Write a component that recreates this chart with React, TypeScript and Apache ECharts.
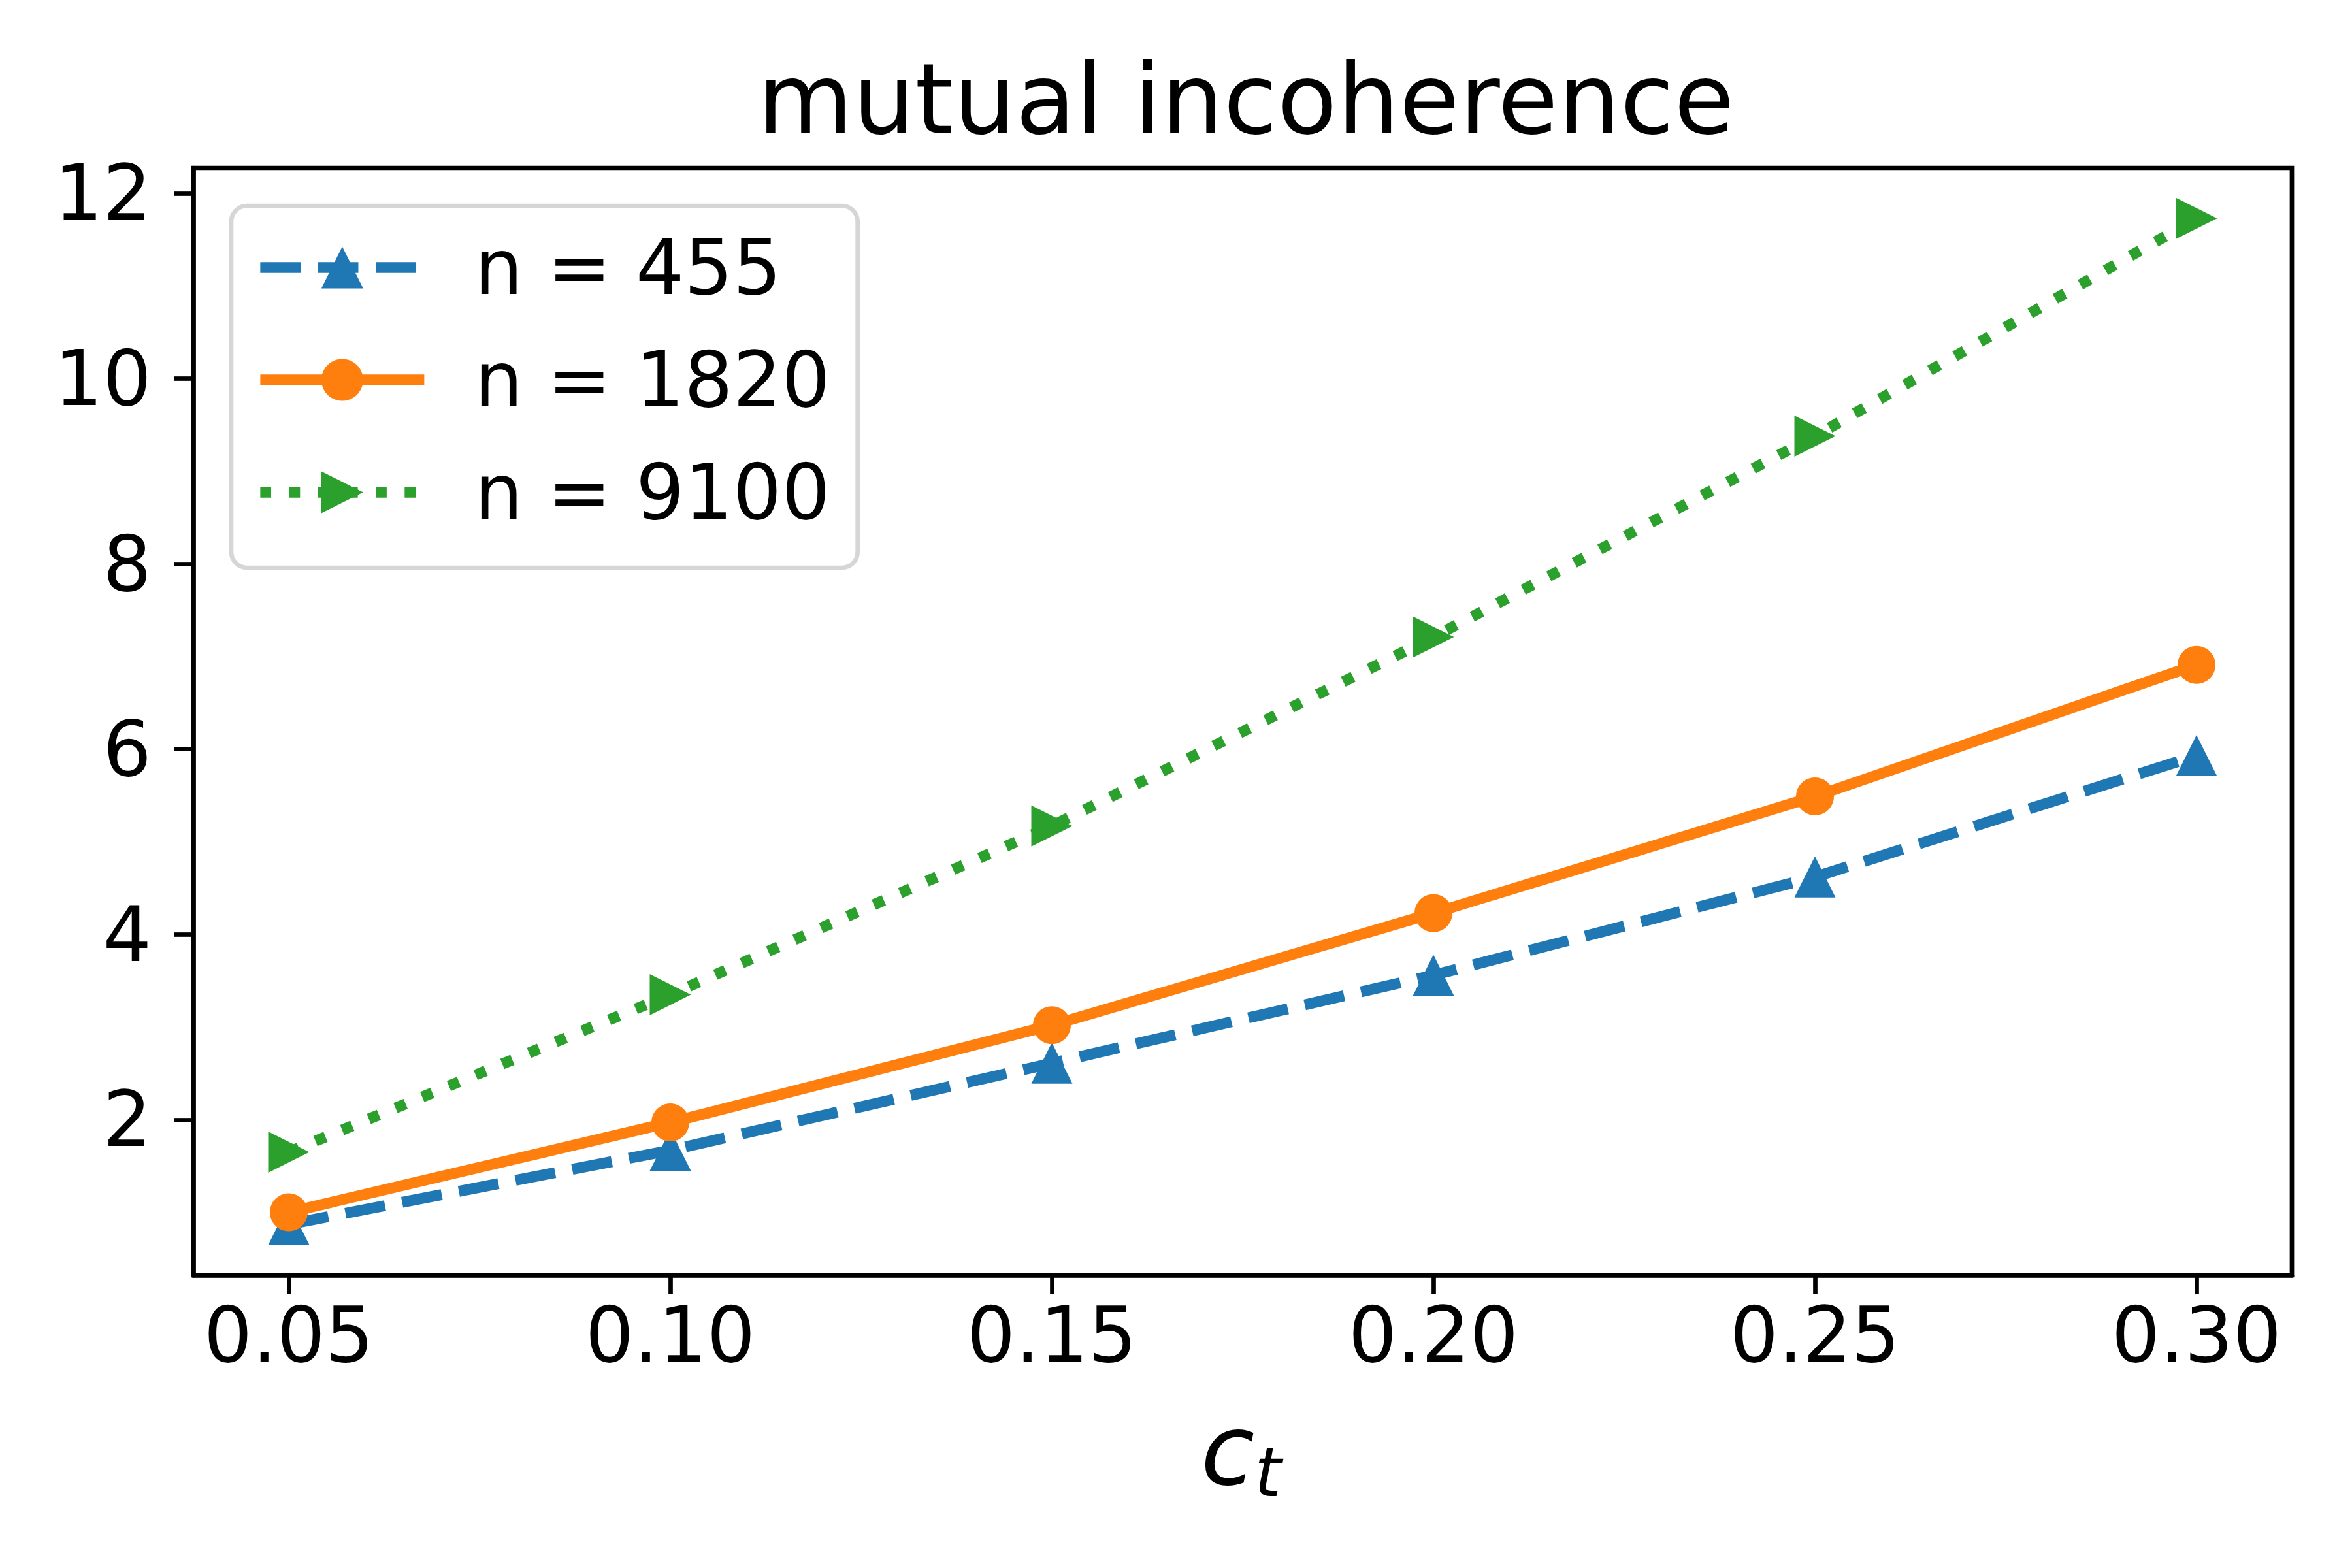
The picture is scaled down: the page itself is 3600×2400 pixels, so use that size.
import React, { useEffect, useRef } from "react";
import * as echarts from "echarts";

const ctValues = [0.05, 0.1, 0.15, 0.2, 0.25, 0.3];
const n455 = [0.87, 1.67, 2.61, 3.56, 4.62, 5.93];
const n1820 = [1.0, 1.97, 3.02, 4.23, 5.49, 6.91];
const n9100 = [1.65, 3.35, 5.17, 7.21, 9.38, 11.73];
const seriesNames = ["n = 455", "n = 1820", "n = 9100"];
const xTicks = [0.05, 0.1, 0.15, 0.2, 0.25, 0.3];
const yTicks = [2, 4, 6, 8, 10, 12];
const titleText = "mutual incoherence";

const FONT = "DejaVu Sans";
const LW = 16.7;
const DASH = [61.7, 26.7];
const DOT = [16.7, 27.5];

export default function App() {
  const ref = useRef<HTMLDivElement>(null);
  useEffect(() => {
    document.body.style.margin = "0";
    const chart = echarts.init(ref.current!, null, { renderer: "svg" });
    const pairs = (ys: number[]) => ctValues.map((x, i) => [x, ys[i]]);
    chart.setOption({
      animation: false,
      backgroundColor: "#ffffff",
      textStyle: { fontFamily: FONT },
      title: {
        text: titleText,
        left: 1902,
        top: 72,
        textAlign: "center",
        textStyle: { fontSize: 150, fontWeight: "normal", color: "#000", fontFamily: FONT, lineHeight: 150 },
      },
      grid: {
        left: 296,
        top: 257,
        right: 92,
        bottom: 448,
        show: true,
        borderColor: "#000",
        borderWidth: 6.7,
        backgroundColor: "transparent",
      },
      legend: {
        orient: "vertical",
        left: 354,
        top: 315,
        padding: [36, 42, 57, 36],
        itemGap: 55,
        itemWidth: 251,
        itemHeight: 80,
        backgroundColor: "#ffffff",
        borderColor: "#d6d6d6",
        borderWidth: 6.7,
        borderRadius: 24,
        textStyle: { fontSize: 117, lineHeight: 117, color: "#000", fontFamily: FONT, padding: [0, 0, 0, 72] },
        data: [
          { name: seriesNames[0], lineStyle: { width: LW, type: DASH, color: "#1f77b4" } },
          { name: seriesNames[1], lineStyle: { width: LW, type: "solid", color: "#ff7f0e" } },
          { name: seriesNames[2], lineStyle: { width: LW, type: DOT, color: "#2ca02c" } },
        ],
      },
      xAxis: {
        type: "value",
        min: 0.0375,
        max: 0.3125,
        axisLine: { show: true, onZero: false, lineStyle: { color: "#000", width: 6.7 } },
        splitLine: { show: false },
        axisTick: { show: true, customValues: xTicks, length: 29, lineStyle: { color: "#000", width: 6.7 } },
        axisLabel: {
          customValues: xTicks,
          formatter: (v: number) => v.toFixed(2),
          fontSize: 117,
          color: "#000",
          fontFamily: FONT,
          margin: 33,
        },
      },
      yAxis: {
        type: "value",
        min: 0.32,
        max: 12.275,
        axisLine: { show: true, onZero: false, lineStyle: { color: "#000", width: 6.7 } },
        splitLine: { show: false },
        axisTick: { show: true, customValues: yTicks, length: 29, lineStyle: { color: "#000", width: 6.7 } },
        axisLabel: {
          customValues: yTicks,
          formatter: (v: number) => String(v),
          fontSize: 117,
          color: "#000",
          fontFamily: FONT,
          margin: 64,
        },
      },
      graphic: [
        {
          type: "text",
          silent: true,
          style: {
            text: "c",
            x: 1838,
            y: 2220,
            fontSize: 150,
            fontStyle: "italic",
            fontFamily: FONT,
            fill: "#000",
            align: "left",
            verticalAlign: "middle",
          },
        },
        {
          type: "text",
          silent: true,
          style: {
            text: "t",
            x: 1920,
            y: 2254,
            fontSize: 105,
            fontStyle: "italic",
            fontFamily: FONT,
            fill: "#000",
            align: "left",
            verticalAlign: "middle",
          },
        },
      ],
      series: [
        {
          type: "line",
          name: seriesNames[0],
          data: pairs(n455),
          symbol: "triangle",
          symbolSize: 63,
          clip: false,
          lineStyle: { color: "#1f77b4", width: LW, type: DASH },
          itemStyle: { color: "#1f77b4" },
          emphasis: { disabled: true },
        },
        {
          type: "line",
          name: seriesNames[1],
          data: pairs(n1820),
          symbol: "circle",
          symbolSize: 58,
          clip: false,
          lineStyle: { color: "#ff7f0e", width: LW, type: "solid" },
          itemStyle: { color: "#ff7f0e" },
          emphasis: { disabled: true },
        },
        {
          type: "line",
          name: seriesNames[2],
          data: pairs(n9100),
          symbol: "path://M0,0L10,5L0,10Z",
          symbolSize: 63,
          clip: false,
          lineStyle: { color: "#2ca02c", width: LW, type: DOT },
          itemStyle: { color: "#2ca02c" },
          emphasis: { disabled: true },
        },
      ],
    });
    return () => chart.dispose();
  }, []);
  return <div ref={ref} style={{ width: 3600, height: 2400 }} />;
}
